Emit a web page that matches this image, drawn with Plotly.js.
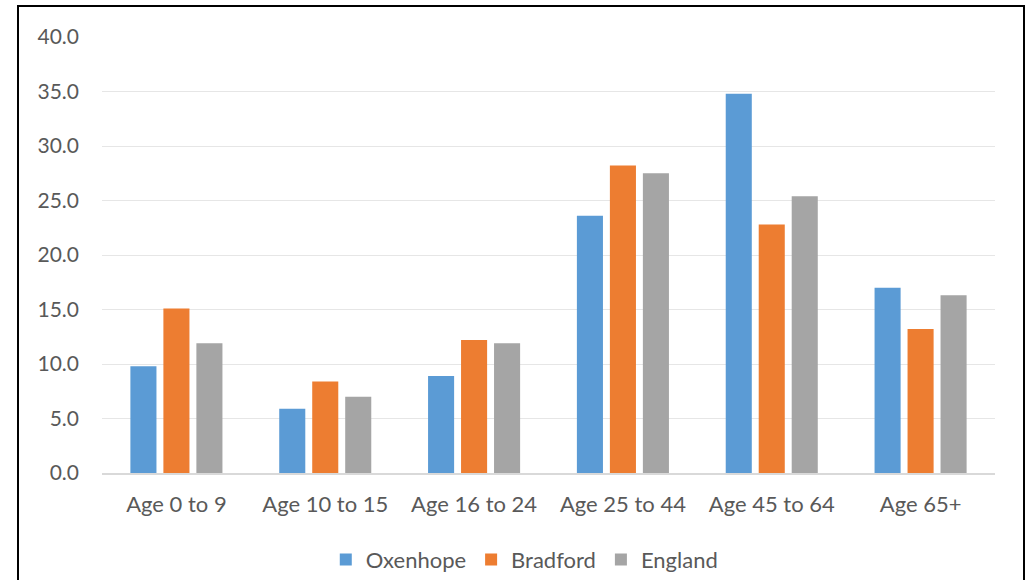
<!DOCTYPE html>
<html>
<head>
<meta charset="utf-8">
<script src="https://cdn.plot.ly/plotly-3.0.1.min.js"></script>
<style>
html,body{margin:0;padding:0;background:#fff;overflow:hidden;width:1028px;height:580px;}
#chart{position:absolute;left:0;top:0;width:1028px;height:580px;}
#frame{position:absolute;left:17px;top:5px;width:1004px;height:600px;border:2px solid #000;box-sizing:content-box;pointer-events:none;}
</style>
</head>
<body>
<div id="chart"></div>
<div id="frame"></div>
<script>
const categories = ["Age 0 to 9", "Age 10 to 15", "Age 16 to 24", "Age 25 to 44", "Age 45 to 64", "Age 65+"];
const oxenhope = [9.8, 5.9, 8.9, 23.6, 34.8, 17.0];
const bradford = [15.1, 8.4, 12.2, 28.2, 22.8, 13.2];
const england = [11.9, 7.0, 11.9, 27.5, 25.4, 16.3];
const seriesNames = ["Oxenhope", "Bradford", "England"];
const colors = ["#5B9BD5", "#ED7D31", "#A5A5A5"];

const font = "Lato, 'Open Sans', sans-serif";
const data = [oxenhope, bradford, england].map((vals, i) => ({
  type: "bar",
  name: seriesNames[i],
  x: categories,
  y: vals,
  marker: {color: colors[i]},
  hoverinfo: "x+y+name"
}));

const layout = {
  width: 1028,
  height: 580,
  margin: {l: 102, r: 33, t: 37, b: 107, autoexpand: false},
  paper_bgcolor: "#fff",
  plot_bgcolor: "#fff",
  barmode: "group",
  bargap: 0.335,
  bargroupgap: 0.21,
  font: {family: font, size: 22, color: "#595959"},
  xaxis: {
    showline: true,
    linecolor: "#D9D9D9",
    linewidth: 1.5,
    showgrid: false,
    ticks: "",
    tickfont: {family: font, size: 22, color: "#595959"},
    ticklabelstandoff: 11,
    automargin: false
  },
  yaxis: {
    range: [0, 40],
    dtick: 5,
    tickformat: ".1f",
    showgrid: true,
    gridcolor: "#E6E6E6",
    gridwidth: 1,
    zeroline: false,
    showline: false,
    ticks: "",
    tickfont: {family: font, size: 21, color: "#595959"},
    ticklabelstandoff: 22,
    automargin: false
  },
  legend: {
    orientation: "h",
    xref: "container",
    x: 0.51,
    xanchor: "center",
    yref: "container",
    y: 0.035,
    yanchor: "middle",
    font: {family: font, size: 22, color: "#595959"},
    traceorder: "normal"
  },
  showlegend: true
};

Plotly.newPlot("chart", data, layout, {displayModeBar: false, staticPlot: true});
</script>
</body>
</html>
